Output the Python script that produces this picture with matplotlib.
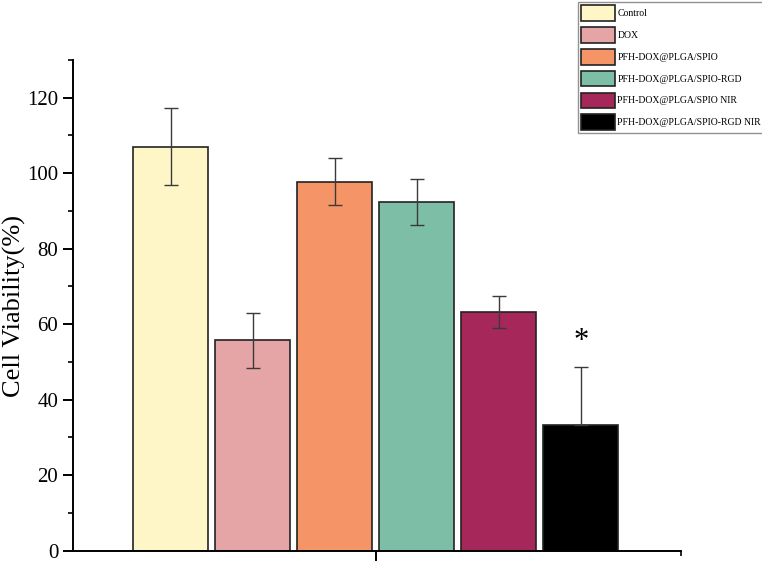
import matplotlib
matplotlib.use("Agg")
import matplotlib.pyplot as plt
from matplotlib.ticker import FixedLocator
import numpy as np

groups = ["Control", "DOX", "PFH-DOX@PLGA/SPIO", "PFH-DOX@PLGA/SPIO-RGD",
          "PFH-DOX@PLGA/SPIO NIR", "PFH-DOX@PLGA/SPIO-RGD NIR"]
values = [107.0, 55.7, 97.8, 92.3, 63.3, 33.4]
err_upper = [10.2, 7.4, 6.3, 6.1, 4.3, 15.3]
err_lower = [10.2, 7.4, 6.3, 6.1, 4.3, 0.0]
colors = ["#FFF6C8", "#E5A4A6", "#F59466", "#7DBFA6", "#A6285A", "#000000"]
star_index = 5
star_y = 55.5

plt.rcParams['font.family'] = ['Liberation Serif', 'DejaVu Serif']

fig = plt.figure(figsize=(7.62, 5.63), dpi=100)
ax = fig.add_axes([73/762, 1-550.7/563, (681-73)/762, (550.7-60)/563])

x = np.arange(len(groups))
ax.bar(x, values, width=0.915, color=colors, edgecolor="#222222", linewidth=1.2)
ax.errorbar(x, values, yerr=[err_lower, err_upper], fmt="none", ecolor="#3a3a3a",
            elinewidth=1.0, capsize=5, capthick=1.0)
ax.text(x[star_index], star_y, "*", ha="center", va="center", fontsize=22)

ax.set_xlim(-1.195, 6.22)
ax.set_ylim(0, 130)
ax.spines['top'].set_visible(False)
ax.spines['right'].set_visible(False)
ax.spines['left'].set_linewidth(1.4)
ax.spines['bottom'].set_linewidth(1.4)

ax.yaxis.set_major_locator(FixedLocator([0, 20, 40, 60, 80, 100, 120]))
ax.yaxis.set_minor_locator(FixedLocator([10, 30, 50, 70, 90, 110, 130]))
ax.xaxis.set_major_locator(FixedLocator([2.5]))
ax.xaxis.set_minor_locator(FixedLocator([6.22]))
ax.set_xticklabels([""])
ax.tick_params(axis='both', which='major', direction='out', length=7.2, width=1.4, labelsize=15)
ax.tick_params(axis='both', which='minor', direction='out', length=3.8, width=1.2)
ax.tick_params(axis='y', pad=3.5)
fig.text(14/762, 1-306/563, "Cell Viability(%)", rotation=90, ha="center", va="center",
         fontsize=19)

handles = [plt.Rectangle((0, 0), 1, 1, facecolor=c, edgecolor="#222222", linewidth=1.2) for c in colors]
leg = fig.legend(handles, groups, loc="upper left", bbox_to_anchor=(578/762, 1-2/563),
                 fontsize=7, frameon=True, fancybox=False, edgecolor="#777777",
                 handlelength=3.5, handleheight=2.1, handletextpad=0.2,
                 labelspacing=0.63, borderpad=0.35, borderaxespad=0)
leg.get_frame().set_linewidth(1.0)

fig.savefig("out.png", dpi=100)
